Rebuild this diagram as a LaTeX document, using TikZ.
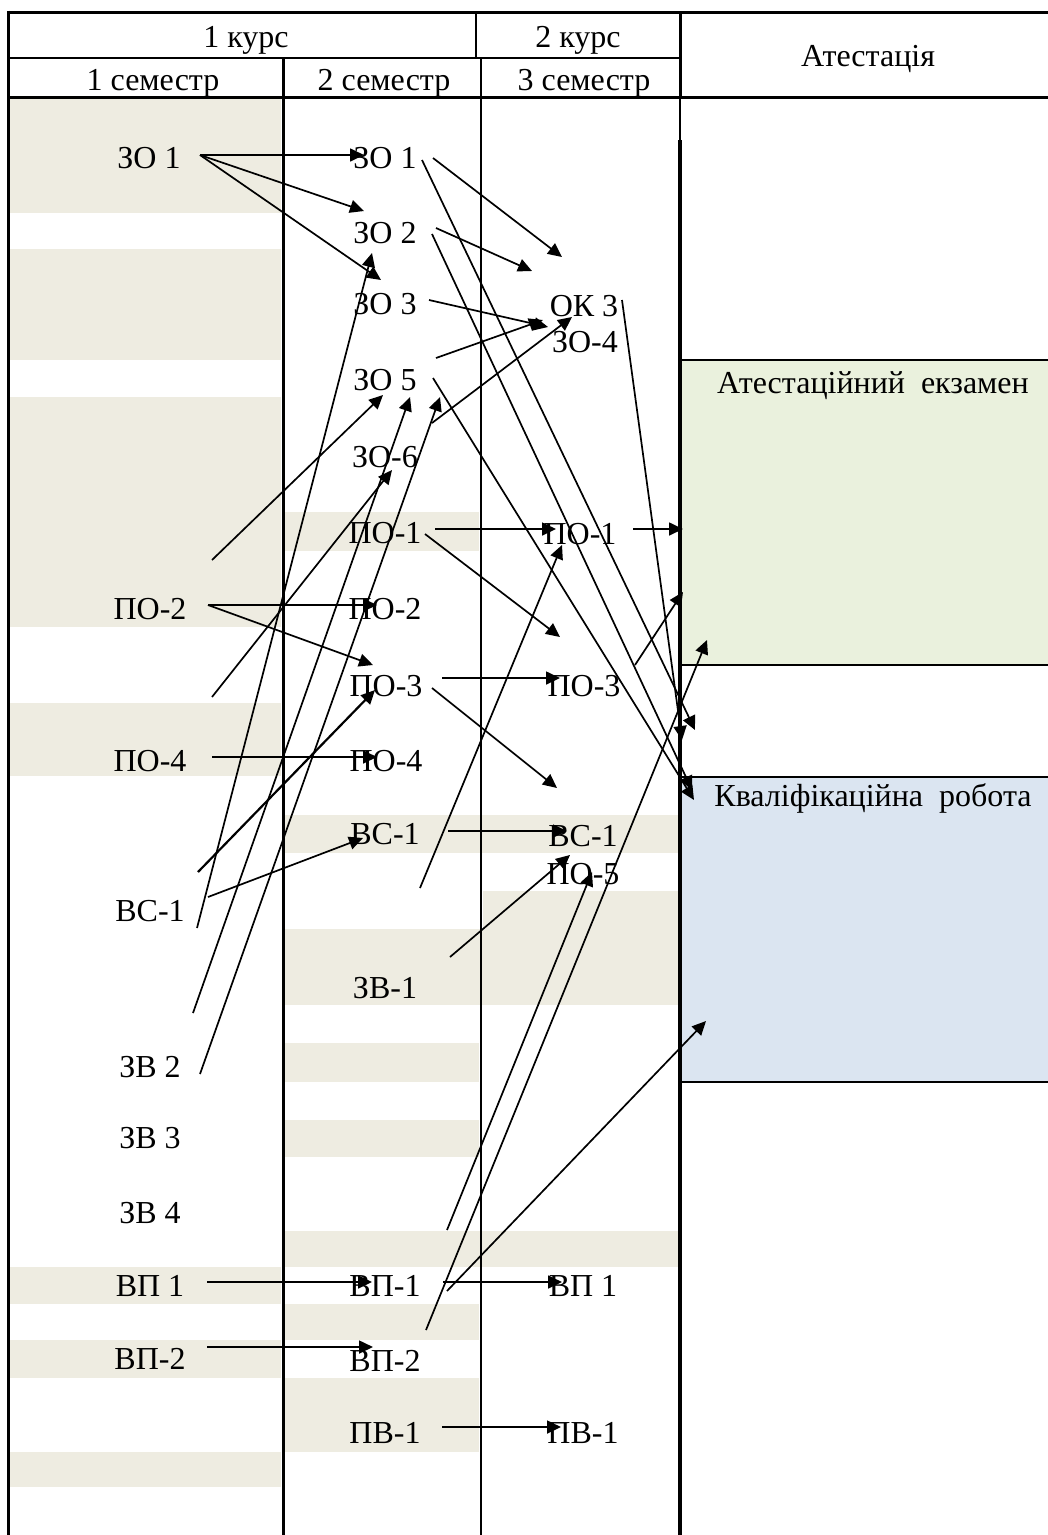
\documentclass[tikz,border=0pt]{standalone}
\usepackage{fontspec}
\setmainfont{Liberation Serif}
\usetikzlibrary{arrows.meta}
\definecolor{band}{HTML}{EEECE1}
\definecolor{examfill}{HTML}{EAF1DD}
\definecolor{qualfill}{HTML}{DBE5F1}

\begin{document}
\begin{tikzpicture}[x=1pt,y=-1pt,
  lbl/.style={inner sep=0pt,anchor=base,font=\fontsize{32}{38}\selectfont},
  arr/.style={-{Triangle[length=14pt,width=13pt]},line width=1.7pt},
  thk/.style={line width=3pt},
  thn/.style={line width=1.4pt}]
  \useasboundingbox (0,0) rectangle (1048,1535);

  % shaded rows
  \foreach \a/\b in {97/213,249/360,397/627,703/776,1267/1304,1340/1378,1452/1487}
    \fill[band] (10,\a) rectangle (281,\b);
  \foreach \a/\b in {512/551,1043/1082,1120/1157,1304/1340,1378/1452}
    \fill[band] (285,\a) rectangle (479,\b);
  \fill[band] (483,891) rectangle (678,929);
  \foreach \a/\b in {815/853,929/1005,1231/1267}
    \fill[band] (285,\a) rectangle (678,\b);

  % attestation boxes
  \fill[examfill] (680,360) rectangle (1048,665);
  \fill[qualfill] (680,777) rectangle (1048,1082);
  \draw[thn] (680,360) -- (1048,360) (680,665) -- (1048,665);
  \draw[thn] (680,777) -- (1048,777) (680,1082) -- (1048,1082);

  % table frame
  \draw[thk] (8,12) -- (1048,12);
  \draw[thk] (8,10.5) -- (8,1535);
  \draw[thk] (8,97) -- (1048,97);
  \draw[line width=2pt] (8,58) -- (476,58);
  \draw[thn] (476,58) -- (680,58);
  \draw[thn] (476,12) -- (476,58);
  \draw[thk] (283,58) -- (283,1535);
  \draw[thn] (481,58) -- (481,1535);
  \draw[thk] (680,12) -- (680,97);
  \draw[thn] (680,97) -- (680,140);
  \draw[line width=3.5pt] (680,140) -- (680,1535);

  % header
  \node[lbl] (k1) at (246,47) {1 курс};
  \node[lbl] (k2) at (578,47) {2 курс};
  \node[lbl] (att) at (868,66) {Атестація};
  \node[lbl] (sem1) at (153,90) {1 семестр};
  \node[lbl] (sem2) at (384,90) {2 семестр};
  \node[lbl] (sem3) at (584,90) {3 семестр};

  % 1 semester
  \node[lbl] (a-zo1) at (149,168) {ЗО 1};
  \node[lbl] (a-po2) at (150,619) {ПО-2};
  \node[lbl] (a-po4) at (150,771) {ПО-4};
  \node[lbl] (a-vs1) at (150,921) {ВС-1};
  \node[lbl] (a-zv2) at (150,1077) {ЗВ 2};
  \node[lbl] (a-zv3) at (150,1148) {ЗВ 3};
  \node[lbl] (a-zv4) at (150,1223) {ЗВ 4};
  \node[lbl] (a-vp1) at (150,1296) {ВП 1};
  \node[lbl] (a-vp2) at (150,1369) {ВП-2};

  % 2 semester
  \node[lbl] (b-zo1) at (385,168) {ЗО 1};
  \node[lbl] (b-zo2) at (385,243) {ЗО 2};
  \node[lbl] (b-zo3) at (385,314) {ЗО 3};
  \node[lbl] (b-zo5) at (385,390) {ЗО 5};
  \node[lbl] (b-zo6) at (385,467) {ЗО-6};
  \node[lbl] (b-po1) at (385,543) {ПО-1};
  \node[lbl] (b-po2) at (385,619) {ПО-2};
  \node[lbl] (b-po3) at (386,696) {ПО-3};
  \node[lbl] (b-po4) at (386,771) {ПО-4};
  \node[lbl] (b-vs1) at (385,844) {ВС-1};
  \node[lbl] (b-zv1) at (385,998) {ЗВ-1};
  \node[lbl] (b-vp1) at (385,1296) {ВП-1};
  \node[lbl] (b-vp2) at (385,1371) {ВП-2};
  \node[lbl] (b-pv1) at (385,1443) {ПВ-1};

  % 3 semester
  \node[lbl] (c-ok3) at (584,316) {ОК 3};
  \node[lbl] (c-zo4) at (585,352) {ЗО-4};
  \node[lbl] (c-po1) at (580,544) {ПО-1};
  \node[lbl] (c-po3) at (584,696) {ПО-3};
  \node[lbl] (c-vs1) at (583,846) {ВС-1};
  \node[lbl] (c-po5) at (583,884) {ПО-5};
  \node[lbl] (c-vp1) at (583,1296) {ВП 1};
  \node[lbl] (c-pv1) at (583,1443) {ПВ-1};

  % attestation
  \node[lbl] (exam) at (873,393) {Атестаційний~~екзамен};
  \node[lbl] (qual) at (873,806) {Кваліфікаційна~~робота};

  % arrow ends
  \coordinate (azo1-o) at (200,155);
  \coordinate (bzo1-i) at (364,155);
  \coordinate (bzo2-i) at (364,211);
  \coordinate (bzo3-i) at (381,280);
  \coordinate (bzo1-o) at (433,158);
  \coordinate (bzo1-d) at (422,160);
  \coordinate (bzo2-o) at (436,228);
  \coordinate (bzo2-d) at (432,234);
  \coordinate (bzo2-b) at (372,253);
  \coordinate (bzo3-o) at (429,300);
  \coordinate (bzo5-u) at (436,358);
  \coordinate (bzo5-d) at (433,378);
  \coordinate (bzo5-b1) at (383,395);
  \coordinate (bzo5-b2) at (410,397);
  \coordinate (bzo5-b3) at (440,397);
  \coordinate (bzo6-u) at (432,423);
  \coordinate (bzo6-b) at (392,470);
  \coordinate (ok3-a) at (562,257);
  \coordinate (ok3-b) at (532,271);
  \coordinate (ok3-o) at (622,300);
  \coordinate (zo4-a) at (548,327);
  \coordinate (zo4-b) at (543,320);
  \coordinate (zo4-c) at (572,317);
  \coordinate (bpo1-o) at (435,529);
  \coordinate (bpo1-d) at (425,534);
  \coordinate (cpo1-i) at (556,529);
  \coordinate (cpo1-b) at (562,545);
  \coordinate (cpo1-o) at (633,529);
  \coordinate (apo2-o) at (208,605);
  \coordinate (bpo2-i) at (377,605);
  \coordinate (bpo3-t) at (373,665);
  \coordinate (bpo3-b) at (375,690);
  \coordinate (cpo3-t) at (560,637);
  \coordinate (bpo3-o) at (442,678);
  \coordinate (bpo3-d) at (432,688);
  \coordinate (cpo3-i) at (560,678);
  \coordinate (cpo3-o) at (635,665);
  \coordinate (cvs1-t) at (557,788);
  \coordinate (apo4-o) at (212,757);
  \coordinate (bpo4-i) at (377,757);
  \coordinate (avs1-o) at (208,897);
  \coordinate (bvs1-i) at (363,838);
  \coordinate (bvs1-o) at (448,831);
  \coordinate (cvs1-i) at (567,831);
  \coordinate (bzv1-o) at (450,957);
  \coordinate (cpo5-a) at (570,855);
  \coordinate (cpo5-b) at (592,872);
  \coordinate (po2-f) at (212,560);
  \coordinate (po4-f) at (212,697);
  \coordinate (vs1-f) at (198,872);
  \coordinate (vs1-g) at (197,928);
  \coordinate (zv2-f) at (193,1013);
  \coordinate (zv2-g) at (200,1074);
  \coordinate (vs1-h) at (420,888);
  \coordinate (zv4-f) at (447,1230);
  \coordinate (vp2-f) at (426,1330);
  \coordinate (bvp1-u) at (447,1291);
  \coordinate (exam-a) at (695,730);
  \coordinate (exam-b) at (682,740);
  \coordinate (exam-c) at (683,529);
  \coordinate (exam-d) at (683,592);
  \coordinate (exam-e) at (707,640);
  \coordinate (qual-a) at (692,790);
  \coordinate (qual-b) at (694,800);
  \coordinate (qual-c) at (706,1021);
  \coordinate (avp1-o) at (207,1282);
  \coordinate (bvp1-i) at (372,1282);
  \coordinate (avp2-o) at (207,1347);
  \coordinate (bvp2-i) at (373,1347);
  \coordinate (bvp1-o) at (443,1282);
  \coordinate (cvp1-i) at (562,1282);
  \coordinate (bpv1-o) at (442,1427);
  \coordinate (cpv1-i) at (561,1427);

  % links
  \draw[arr] (azo1-o) -- (bzo1-i);
  \draw[arr] (azo1-o) -- (bzo2-i);
  \draw[arr] (azo1-o) -- (bzo3-i);
  \draw[arr] (bzo1-o) -- (ok3-a);
  \draw[arr] (bzo1-d) -- (exam-a);
  \draw[arr] (bzo2-o) -- (ok3-b);
  \draw[arr] (bzo2-d) -- (qual-a);
  \draw[arr] (bzo3-o) -- (zo4-a);
  \draw[arr] (bzo5-u) -- (zo4-b);
  \draw[arr] (bzo6-u) -- (zo4-c);
  \draw[arr] (bzo5-d) -- (qual-b);
  \draw[arr] (ok3-o) -- (exam-b);
  \draw[arr] (bpo1-o) -- (cpo1-i);
  \draw[arr] (bpo1-d) -- (cpo3-t);
  \draw[arr] (cpo1-o) -- (exam-c);
  \draw[arr] (apo2-o) -- (bpo2-i);
  \draw[arr] (apo2-o) -- (bpo3-t);
  \draw[arr] (bpo3-o) -- (cpo3-i);
  \draw[arr] (bpo3-d) -- (cvs1-t);
  \draw[arr] (cpo3-o) -- (exam-d);
  \draw[arr] (apo4-o) -- (bpo4-i);
  \draw[arr] (avs1-o) -- (bvs1-i);
  \draw[arr] (bvs1-o) -- (cvs1-i);
  \draw[arr] (po2-f) -- (bzo5-b1);
  \draw[arr] (vs1-g) -- (bzo2-b);
  \draw[arr] (zv2-f) -- (bzo5-b2);
  \draw[arr] (zv2-g) -- (bzo5-b3);
  \draw[arr] (po4-f) -- (bzo6-b);
  \draw[arr,line width=2.2pt] (vs1-f) -- (bpo3-b);
  \draw[arr] (vs1-h) -- (cpo1-b);
  \draw[arr] (bzv1-o) -- (cpo5-a);
  \draw[arr] (zv4-f) -- (cpo5-b);
  \draw[arr] (vp2-f) -- (exam-e);
  \draw[arr] (bvp1-u) -- (qual-c);
  \draw[arr] (avp1-o) -- (bvp1-i);
  \draw[arr] (avp2-o) -- (bvp2-i);
  \draw[arr] (bvp1-o) -- (cvp1-i);
  \draw[arr] (bpv1-o) -- (cpv1-i);
\end{tikzpicture}
\end{document}
